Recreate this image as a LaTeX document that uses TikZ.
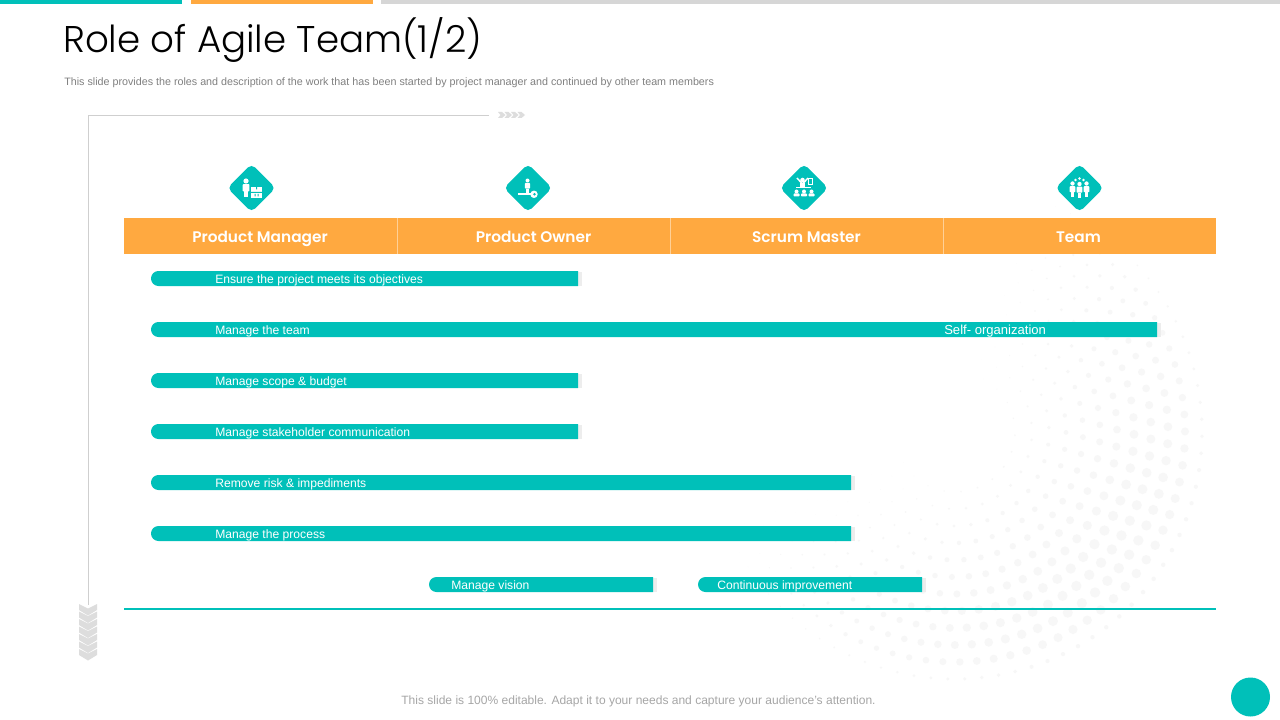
\documentclass[tikz,border=0pt]{standalone}
\usepackage{fontspec}
\setmainfont{Liberation Sans}
\newfontfamily\titlefont{Poppins Light}
\newfontfamily\headfont{Poppins SemiBold}
\usetikzlibrary{shapes.geometric}
\definecolor{teal}{HTML}{00C0B9}
\definecolor{orng}{HTML}{FFA940}
\definecolor{gline}{HTML}{CFCFCF}
\definecolor{chev}{HTML}{DDDDDD}
\definecolor{dot}{HTML}{F7F7F7}
\tikzset{
  bar/.style={fill=teal},
  barshadow/.style={fill=black!7},
  barlabel/.style={anchor=west,inner sep=0pt,text=white,font=\fontsize{9.1pt}{11pt}\selectfont},
  headlabel/.style={anchor=base,text=white,inner sep=0pt,font=\headfont\fontsize{11.5pt}{14pt}\selectfont},
  icondiamond/.style={diamond,fill=teal,draw=none,minimum size=36.5pt,inner sep=0pt,rounded corners=4pt},
  framerule/.style={draw=gline,line width=0.75pt},
  chevron/.style={fill=chev},
  iconfill/.style={fill=white,draw=none},
}
% person glyph: origin at head centre, unit = px
\newcommand{\persona}[3]{%
  \fill[iconfill] (#1,#2) circle[radius=#3*1.3pt];
  \fill[iconfill,rounded corners=0.6pt] (#1-#3*2.3,#2+#3*2.1) rectangle (#1+#3*2.3,#2+#3*7);
  \fill[iconfill] (#1-#3*1.4,#2+#3*7) rectangle (#1+#3*1.4,#2+#3*11);
}
% draw one pill bar: left x, right x, centre y
\newcommand{\pillbar}[3]{%
  \fill[barshadow] (#2,#3-6.5) rectangle (#2+4,#3+7.5);
  \fill[bar] (#2,#3-7.5) [rounded corners=5.6pt] -- (#1,#3-7.5) -- (#1,#3+7.5) [sharp corners] -- (#2,#3+7.5) -- cycle;
}
\begin{document}
\begin{tikzpicture}[x=0.75pt,y=-0.75pt]
\useasboundingbox (0,0) rectangle (1280,720);
\fill[white] (0,0) rectangle (1280,720);
% halftone
\foreach \r [count=\i] in {60,77,...,247}{
  \pgfmathsetmacro{\da}{17/\r*57.3}
  \pgfmathsetmacro{\off}{mod(\i,2)*\da/2}
  \pgfmathtruncatemacro{\n}{225/\da}
  \foreach \k in {0,...,\n}{
    \pgfmathsetmacro{\a}{-70+\off+\k*\da}
    \pgfmathsetmacro{\g}{max(0,cos(0.8*(\a-40)))}
    \pgfmathsetmacro{\f}{min(1,(\r-30)/150)*min(1,(262-\r)/35)}
    \pgfmathsetmacro{\s}{5.2*\f*\g*0.75}
    \fill[dot] ({955+\r*cos(\a)},{432+\r*sin(\a)}) circle[radius=\s pt];
  }
}
% top strips
\fill[teal] (0,0) rectangle (182,4);
\fill[orng] (191,0) rectangle (373,4);
\fill[gline!85] (381,0) rectangle (1280,4);
% title
\node[anchor=west,inner sep=0pt,font=\titlefont\fontsize{27.9pt}{34pt}\selectfont,text=black] (title) at (63,40) {Role of Agile Team(1/2)};
\node[anchor=west,inner sep=0pt,font=\fontsize{8.05pt}{10pt}\selectfont,text=black!50] (sub) at (64,82.5) {This slide provides the roles and description of the work that has been started by project manager and continued by other team members};
% frame
\coordinate (fa) at (489,115.5);\coordinate (fb) at (88,115.5);\coordinate (fc) at (88,605);
\draw[framerule] (fa) -- (fb) -- (fc);
\foreach \x in {498,504.5,511,517.5}
  \fill[chevron] (\x,112) -- (\x+4,112) -- (\x+7.5,115) -- (\x+4,118) -- (\x,118) -- (\x+2.5,115) -- cycle;
\foreach \k in {0,...,6}
  \fill[chevron] (79,604+\k*7.5) -- (88,608.5+\k*7.5) -- (97,604+\k*7.5) -- (97,610+\k*7.5) -- (88,615.5+\k*7.5) -- (79,610+\k*7.5) -- cycle;
% header
\fill[orng] (124,218.5) rectangle (1216,254);
\foreach \x in {397,670,943} \draw[draw=white!45!orng,line width=0.75pt] (\x,218.5) -- (\x,254);
\node[headlabel] (h1) at (260,242.5) {Product Manager};
\node[headlabel] (h2) at (533.5,242.5) {Product Owner};
\node[headlabel] (h3) at (806.5,242.5) {Scrum Master};
\node[headlabel] (h4) at (1078.5,242.5) {Team};
% icons
\node[icondiamond] (d1) at (251.5,188) {};
\node[icondiamond] (d2) at (528,188) {};
\node[icondiamond] (d3) at (804,188) {};
\node[icondiamond] (d4) at (1079.5,188) {};
% PM icon
\persona{246}{181}{1.5}
\fill[iconfill] (251,187) rectangle (262,198);
\fill[teal] (251,192) rectangle (262,192.8) (254.5,194) rectangle (255.5,196.5) (257.5,194) rectangle (258.5,196.5) (256,187) rectangle (257,189.5);
% PO icon
\persona{527.5}{180.5}{1.15}
\fill[iconfill] (518,193) rectangle (532,195.5);
\fill[iconfill] (534,194.3) circle[radius=2.8pt];
\fill[teal] (534.5,194.3) circle[radius=1pt];
% SM icon
\fill[iconfill] (802.5,180) circle[radius=1.7pt];
\draw[white,line width=1.1pt] (797,178) -- (802.5,184) -- (808,178);
\fill[iconfill] (800,183) rectangle (805,187);
\draw[white,line width=0.6pt] (808.5,178) rectangle (812.5,184);
\draw[white,line width=0.6pt] (796,187.5) -- (811,187.5);
\foreach \x in {796.5,804,811.5}{
  \fill[iconfill] (\x,191.5) circle[radius=1.5pt];
  \fill[iconfill,rounded corners=0.6pt] (\x-3,193.5) rectangle (\x+3,196.5);
}
% Team icon
\foreach \x/\y in {1079.5/178.5,1075.5/180,1083.5/180}
  \fill[iconfill] (\x,\y) circle[radius=1.1pt];
\persona{1072.5}{183.5}{1.25}
\persona{1079.5}{184}{1.25}
\persona{1086.5}{183.5}{1.25}
% bars
\pillbar{151}{578}{278.5}
\pillbar{151}{1157}{329.5}
\pillbar{151}{578}{380.5}
\pillbar{151}{578}{431.5}
\pillbar{151}{851}{482.5}
\pillbar{151}{851}{533.5}
\pillbar{429}{653}{584.5}
\pillbar{698}{922}{584.5}
\node[barlabel] (l1) at (215,280) {Ensure the project meets its objectives};
\node[barlabel] (l2) at (215,331) {Manage the team};
\node[barlabel,font=\fontsize{9.8pt}{11pt}\selectfont] (l2b) at (944,331) {Self- organization};
\node[barlabel] (l3) at (215,382) {Manage scope \& budget};
\node[barlabel] (l4) at (215,433) {Manage stakeholder communication};
\node[barlabel] (l5) at (215,484) {Remove risk \& impediments};
\node[barlabel] (l6) at (215,535) {Manage the process};
\node[barlabel] (l7) at (451,586) {Manage vision};
\node[barlabel] (l8) at (717,586) {Continuous improvement};
% base line
\coordinate (ba) at (124,608.4);\coordinate (bb) at (1216,609.6);
\fill[teal] (ba) rectangle (bb);
% footer
\node[anchor=center,inner sep=0pt,font=\fontsize{9.02pt}{11pt}\selectfont,text=black!35] (foot) at (638.5,701.5) {This slide is 100\% editable. Adapt it to your needs and capture your audience's attention.};
\node[circle,fill=teal,minimum size=29.25pt,inner sep=0pt] (c) at (1250.5,697) {};
\end{tikzpicture}
\end{document}
